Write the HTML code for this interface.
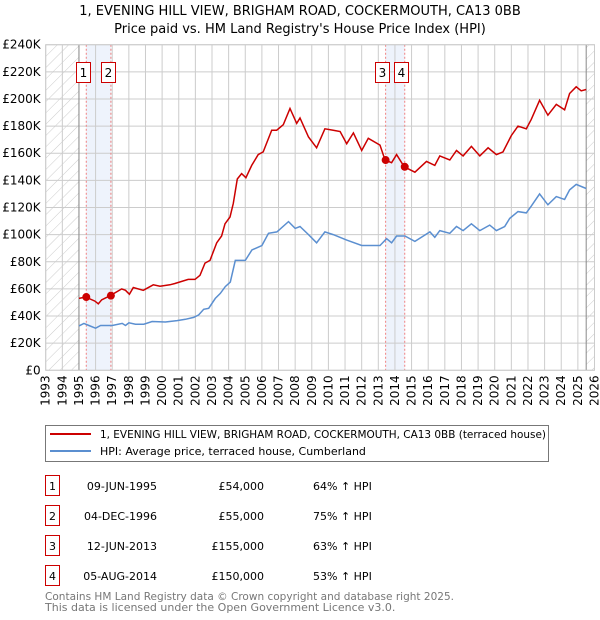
<!DOCTYPE html>
<html><head><meta charset="utf-8"><style>
body{margin:0;background:#fff;font-family:"DejaVu Sans","Liberation Sans",sans-serif;}
#w{position:relative;width:600px;height:620px;overflow:hidden;}
</style></head><body><div id="w">
<svg id="s" width="600" height="620" xmlns="http://www.w3.org/2000/svg" style="position:absolute;left:0;top:0">
<defs><pattern id="hatch" width="8" height="8" patternUnits="userSpaceOnUse" patternTransform="rotate(45)"><line x1="0" y1="0" x2="0" y2="8" stroke="#ccc" stroke-width="1"/></pattern></defs>
<text x="300" y="15" text-anchor="middle" font-size="13" fill="#000">1, EVENING HILL VIEW, BRIGHAM ROAD, COCKERMOUTH, CA13 0BB</text>
<text x="300" y="33" text-anchor="middle" font-size="13" fill="#000">Price paid vs. HM Land Registry's House Price Index (HPI)</text>
<g id="g"></g>
</svg>
<svg width="600" height="200" style="position:absolute;left:0;top:420px">
<rect x="45.5" y="5.5" width="503" height="36" fill="#fff" stroke="#777"/>
<line x1="50" y1="14" x2="91" y2="14" stroke="#cc0000" stroke-width="2"/>
<text x="100" y="18" font-size="11" textLength="446" lengthAdjust="spacingAndGlyphs">1, EVENING HILL VIEW, BRIGHAM ROAD, COCKERMOUTH, CA13 0BB (terraced house)</text>
<line x1="50" y1="31" x2="91" y2="31" stroke="#5b8fd0" stroke-width="2"/>
<text x="100" y="35" font-size="11">HPI: Average price, terraced house, Cumberland</text>
<g font-size="11">
<g><rect x="45.5" y="55.5" width="14" height="20" fill="#fff" stroke="#cc0000"/><text x="52.5" y="70" text-anchor="middle">1</text><text x="157" y="70" text-anchor="end">09-JUN-1995</text><text x="264" y="70" text-anchor="end">£54,000</text><text x="313" y="70">64% ↑ HPI</text></g>
<g><rect x="45.5" y="85.5" width="14" height="20" fill="#fff" stroke="#cc0000"/><text x="52.5" y="100" text-anchor="middle">2</text><text x="157" y="100" text-anchor="end">04-DEC-1996</text><text x="264" y="100" text-anchor="end">£55,000</text><text x="313" y="100">75% ↑ HPI</text></g>
<g><rect x="45.5" y="115.5" width="14" height="20" fill="#fff" stroke="#cc0000"/><text x="52.5" y="130" text-anchor="middle">3</text><text x="157" y="130" text-anchor="end">12-JUN-2013</text><text x="264" y="130" text-anchor="end">£155,000</text><text x="313" y="130">63% ↑ HPI</text></g>
<g><rect x="45.5" y="145.5" width="14" height="20" fill="#fff" stroke="#cc0000"/><text x="52.5" y="160" text-anchor="middle">4</text><text x="157" y="160" text-anchor="end">05-AUG-2014</text><text x="264" y="160" text-anchor="end">£150,000</text><text x="313" y="160">53% ↑ HPI</text></g>
</g>
<text x="45" y="180" font-size="11" fill="#777" textLength="409" lengthAdjust="spacingAndGlyphs">Contains HM Land Registry data © Crown copyright and database right 2025.</text>
<text x="45" y="191" font-size="11" fill="#777">This data is licensed under the Open Government Licence v3.0.</text>
</svg>
</div>
<script>
const yTicks=[0,20,40,60,80,100,120,140,160,180,200,220,240];
const yTickLabels=["£0","£20K","£40K","£60K","£80K","£100K","£120K","£140K","£160K","£180K","£200K","£220K","£240K"];
const xYears=[1993,1994,1995,1996,1997,1998,1999,2000,2001,2002,2003,2004,2005,2006,2007,2008,2009,2010,2011,2012,2013,2014,2015,2016,2017,2018,2019,2020,2021,2022,2023,2024,2025,2026];
const redYears=[1995.0,1995.4,1995.96,1996.16,1996.37,1996.87,1997.57,1997.8,1998.03,1998.27,1998.87,1999.47,1999.87,2000.47,2000.77,2001.57,2001.98,2002.28,2002.58,2002.88,2003.28,2003.58,2003.78,2004.08,2004.28,2004.52,2004.78,2005.04,2005.39,2005.78,2006.08,2006.59,2006.89,2007.29,2007.69,2008.09,2008.29,2008.8,2009.29,2009.79,2010.29,2010.7,2011.1,2011.5,2012.0,2012.4,2013.1,2013.4,2013.8,2014.1,2014.56,2015.2,2015.9,2016.4,2016.7,2017.3,2017.7,2018.1,2018.6,2019.1,2019.6,2020.1,2020.5,2021.0,2021.4,2021.9,2022.2,2022.7,2023.2,2023.7,2024.2,2024.5,2024.9,2025.2,2025.5];
const redValues=[53,54,51,49,52,55,60,59,56,61,59,63,62,63,64,67,67,70,79,81,94,99,108,113,123,141,145,142,151,159,161,177,177,181,193,182,186,172,164,178,177,176,167,175,162,171,166,155,153,159,150,146,154,151,158,155,162,158,165,158,164,159,161,173,180,178,185,199,188,196,192,204,209,206,207];
const blueYears=[1995.0,1995.3,1995.6,1996.0,1996.3,1997.0,1997.6,1997.8,1998.0,1998.4,1998.9,1999.4,2000.2,2000.9,2001.4,2001.9,2002.2,2002.5,2002.8,2003.2,2003.5,2003.8,2004.1,2004.4,2004.7,2005.0,2005.4,2006.0,2006.4,2006.9,2007.6,2008.0,2008.29,2008.8,2009.29,2009.79,2010.29,2011.1,2012.0,2013.1,2013.5,2013.8,2014.1,2014.6,2015.2,2016.1,2016.4,2016.7,2017.3,2017.7,2018.1,2018.6,2019.1,2019.7,2020.1,2020.6,2020.9,2021.4,2021.9,2022.2,2022.7,2023.2,2023.7,2024.2,2024.5,2024.9,2025.5];
const blueValues=[32.7,34.6,33,31,33,33,34.6,33,35,34,34,36,35.6,36.6,37.6,39,40.8,45,45.7,53,56.7,61.7,65,81,81,81,88.7,92,101,102,109.6,104.6,106,100,94,102,100,96,92,92,97,94,99,99,95,102,98,103,101,106,103,108,103,107,103,106,112,117,116,121,130,122,128,126,133,137,134];
const saleYears=[1995.44,1996.92,2013.44,2014.59];
const saleValues=[54,55,155,150];
const saleLabels=["1","2","3","4"];

const X0=45.7,X1=594.5,Y0=370.3,Y1=44.7,YR0=1993,YR1=2026,VMAX=240;
const xs=y=>X0+(y-YR0)/(YR1-YR0)*(X1-X0);
const ys=v=>Y0-v/VMAX*(Y0-Y1);
const NS="http://www.w3.org/2000/svg";
const g=document.getElementById('g');
function mk(t,a){const e=document.createElementNS(NS,t);for(const k in a)e.setAttribute(k,a[k]);g.appendChild(e);return e;}
let e=mk('rect',{x:X0,y:Y1,width:xs(1995)-X0,height:Y0-Y1,fill:'url(#hatch)'});


e=mk('rect',{x:xs(2025.5),y:Y1,width:X1-xs(2025.5),height:Y0-Y1,fill:'url(#hatch)'});


for(const [a,b] of [[0,1],[2,3]]){
 e=mk('rect',{x:xs(saleYears[a]),y:Y1,width:xs(saleYears[b])-xs(saleYears[a]),height:Y0-Y1,fill:'#eef3fc'});
 
 
}
yTicks.forEach((v,i)=>{
 e=mk('line',{x1:X0,x2:X1,y1:ys(v),y2:ys(v),stroke:'#ccc','stroke-width':1});
 
 
 e=mk('text',{x:X0-5,y:ys(v)+4,'text-anchor':'end','font-size':12,fill:'#000'});
 e.textContent=yTickLabels[i];
 
 
});
xYears.forEach(yr=>{
 e=mk('line',{x1:xs(yr),x2:xs(yr),y1:Y1,y2:Y0,stroke:'#ccc','stroke-width':1});
 
 
 const tx=xs(yr)+4,ty=Y0+5;
 e=mk('text',{x:tx,y:ty,'text-anchor':'end','font-size':12,fill:'#000',transform:`rotate(-90 ${tx} ${ty})`});
 e.textContent=yr;
 
 
});
e=mk('line',{x1:xs(1995),x2:xs(1995),y1:Y1,y2:Y0,stroke:'#888','stroke-width':1});


e=mk('line',{x1:xs(2025.5),x2:xs(2025.5),y1:Y1,y2:Y0,stroke:'#888','stroke-width':1});


saleYears.forEach(yr=>{
 e=mk('line',{x1:xs(yr),x2:xs(yr),y1:Y1,y2:Y0,stroke:'#f08080','stroke-width':1,'stroke-dasharray':'2,2'});
 
 
});
const pts=(a,b)=>a.map((y,i)=>xs(y).toFixed(1)+','+ys(b[i]).toFixed(1)).join(' ');
e=mk('polyline',{points:pts(blueYears,blueValues),fill:'none',stroke:'#5b8fd0','stroke-width':1.5});


e=mk('polyline',{points:pts(redYears,redValues),fill:'none',stroke:'#cc0000','stroke-width':1.5});


saleYears.forEach((yr,i)=>{
 e=mk('circle',{cx:xs(yr),cy:ys(saleValues[i]),r:4,fill:'#cc0000'});
 
 
 const cx=xs(yr)-3.3;
 e=mk('rect',{x:Math.round(cx-7)+0.5,y:62.5,width:14,height:20,fill:'#fff',stroke:'#cc0000'});
 
 
 e=mk('text',{x:Math.round(cx-7)+7.5,y:77,'text-anchor':'middle','font-size':12});
 e.textContent=saleLabels[i];
 
 
});
e=mk('rect',{x:X0,y:Y1,width:X1-X0,height:Y0-Y1,fill:'none',stroke:'#ccc'});


</script>
</body></html>
